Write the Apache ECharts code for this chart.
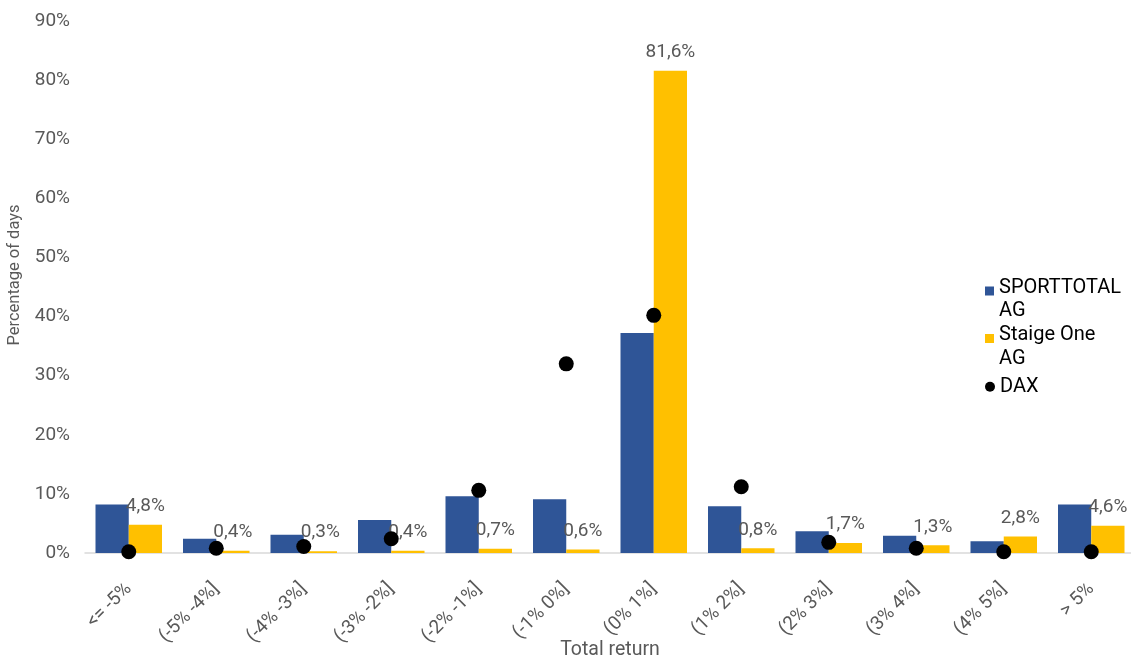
<!DOCTYPE html>
<html>
<head>
<meta charset="utf-8">
<script src="https://cdn.jsdelivr.net/npm/echarts@6/dist/echarts.min.js"></script>
<style>
  html, body { margin: 0; padding: 0; background: #fff; }
  #chart { width: 1131px; height: 661px; }
</style>
</head>
<body>
<div id="chart"></div>
<script>
// Return buckets on the x axis
const categories = ['<= -5%', '(-5% -4%]', '(-4% -3%]', '(-3% -2%]', '(-2% -1%]', '(-1% 0%]',
  '(0% 1%]', '(1% 2%]', '(2% 3%]', '(3% 4%]', '(4% 5%]', '> 5%'];

// Share of trading days per bucket, in percent
const sporttotal = [8.2, 2.4, 3.1, 5.6, 9.6, 9.1, 37.2, 7.9, 3.7, 2.9, 2.0, 8.2];
const staigeOne = [4.8, 0.4, 0.3, 0.4, 0.7, 0.6, 81.6, 0.8, 1.7, 1.3, 2.8, 4.6];
const dax = [0.2, 0.8, 1.1, 2.4, 10.6, 32.0, 40.2, 11.2, 1.8, 0.8, 0.2, 0.2];

// Value axis ticks
const yTicks = { min: 0, max: 90, interval: 10 };

const seriesNames = ['SPORTTOTAL AG', 'Staige One AG', 'DAX'];

const FONT = 'Roboto';
const GREY = '#595959';

const fmtPct = v => v.toFixed(1).replace('.', ',') + '%';

const chart = echarts.init(document.getElementById('chart'), null, { renderer: 'canvas' });

const legendText = {
  fontFamily: FONT, fontSize: 20, color: '#000', lineHeight: 23.5
};
// two-line legend entries: a thin spacer line above keeps the first line level with the swatch
const wrapText = Object.assign({
  rich: {
    s: { fontSize: 1, lineHeight: 17 },
    a: { fontFamily: FONT, fontSize: 20, color: '#000', lineHeight: 23.5 }
  }
}, legendText);
const wrapName = n => '{s| }\n{a|' + n.replace(' AG', '}\n{a|AG}');

chart.setOption({
  animation: false,
  backgroundColor: '#fff',
  textStyle: { fontFamily: FONT },
  grid: { left: 85, width: 1050, top: 21, bottom: 108, containLabel: false, outerBoundsMode: 'none' },
  legend: [
    {
      orient: 'vertical', left: 985, top: 259, padding: 0,
      itemWidth: 9, itemHeight: 9, itemGap: 0,
      formatter: wrapName,
      data: [{ name: seriesNames[0], icon: 'rect', textStyle: wrapText }]
    },
    {
      orient: 'vertical', left: 985, top: 306.5, padding: 0,
      itemWidth: 9, itemHeight: 9, itemGap: 0,
      formatter: wrapName,
      data: [{ name: seriesNames[1], icon: 'rect', textStyle: wrapText }]
    },
    {
      orient: 'vertical', left: 985, top: 375, padding: 0,
      itemWidth: 10, itemHeight: 10, itemGap: 0,
      data: [{ name: seriesNames[2], icon: 'circle', textStyle: legendText }]
    }
  ],
  xAxis: {
    type: 'category',
    data: categories,
    name: 'Total return',
    nameLocation: 'middle',
    nameGap: 87,
    nameMoveOverlap: false,
    nameTextStyle: { fontFamily: FONT, fontSize: 19.5, color: GREY },
    axisLine: { show: true, lineStyle: { color: '#d9d9d9', width: 1.5 } },
    axisTick: { show: false },
    axisLabel: {
      interval: 0, rotate: 45, margin: 33,
      fontFamily: FONT, fontSize: 19, color: GREY
    },
    splitLine: { show: false }
  },
  yAxis: {
    type: 'value',
    min: yTicks.min, max: yTicks.max, interval: yTicks.interval,
    name: 'Percentage of days',
    nameLocation: 'middle',
    nameGap: 60,
    nameTextStyle: { fontFamily: FONT, fontSize: 16.5, color: GREY, padding: [0, 0, 0, 24] },
    axisLine: { show: false },
    axisTick: { show: false },
    splitLine: { show: false },
    axisLabel: {
      margin: 15, fontFamily: FONT, fontSize: 19, color: GREY,
      formatter: v => v + '%'
    }
  },
  series: [
    {
      name: seriesNames[0], type: 'bar', data: sporttotal,
      barGap: '0%', barCategoryGap: '24%',
      itemStyle: { color: '#2F5597' }
    },
    {
      name: seriesNames[1], type: 'bar', data: staigeOne,
      barGap: '0%', barCategoryGap: '24%',
      itemStyle: { color: '#FFC000' },
      label: {
        show: true, position: 'top', distance: 9,
        fontFamily: FONT, fontSize: 19, color: GREY,
        formatter: p => fmtPct(p.value)
      }
    },
    {
      name: seriesNames[2], type: 'scatter', data: dax,
      symbol: 'circle', symbolSize: 15, z: 5,
      itemStyle: { color: '#000', opacity: 1 }
    }
  ]
});
</script>
</body>
</html>
